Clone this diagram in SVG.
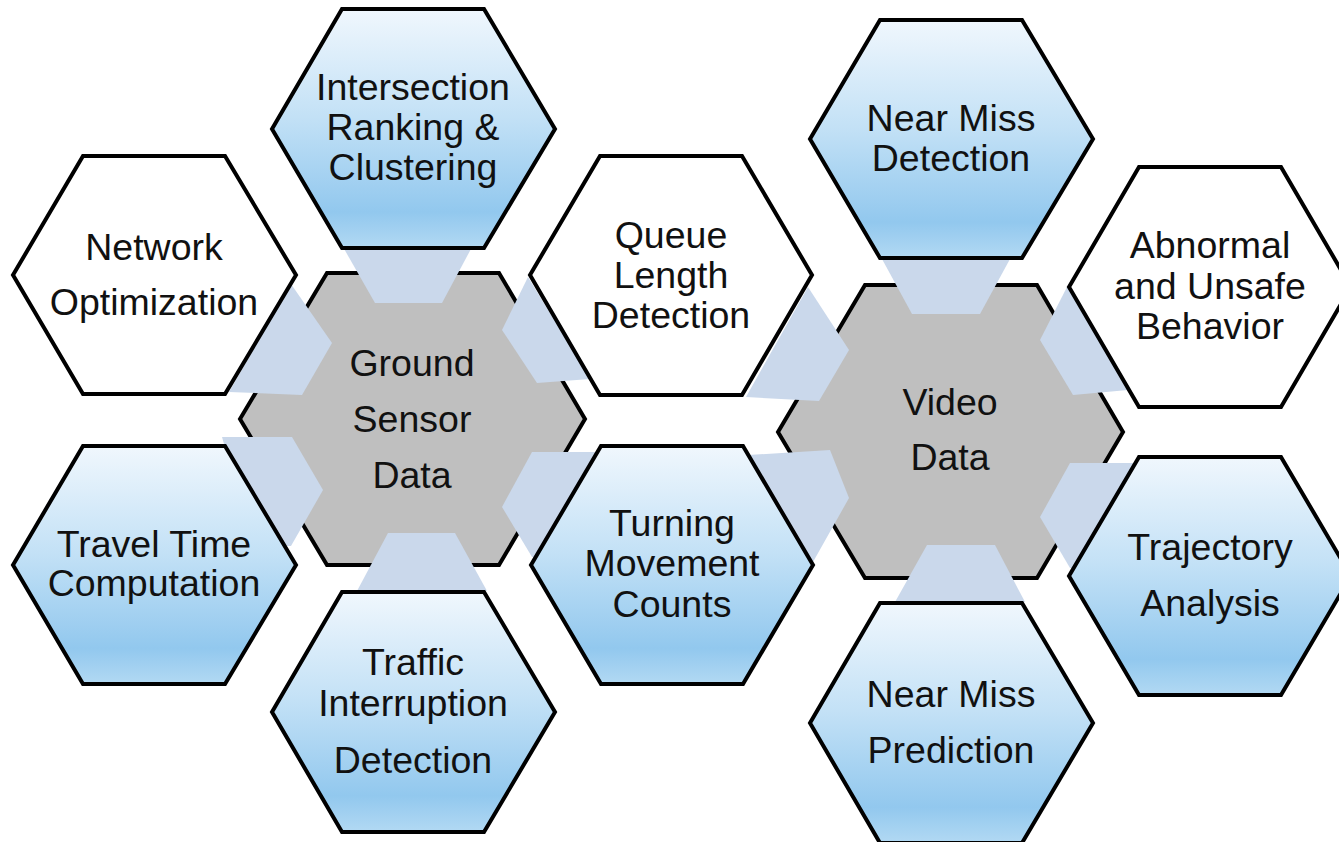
<svg xmlns="http://www.w3.org/2000/svg" width="1339" height="842" viewBox="0 0 1339 842">
<defs>
<linearGradient id="blue" x1="0" y1="0" x2="0" y2="1">
<stop offset="0" stop-color="#f0f7fd"/>
<stop offset="0.45" stop-color="#c3e1f6"/>
<stop offset="0.85" stop-color="#92c8ee"/>
<stop offset="1" stop-color="#b2d9f3"/>
</linearGradient>
<style>
.hex{stroke:#000;stroke-width:4;stroke-linejoin:miter}
.core{fill:#bfbfbf}
.white{fill:#fff}
.blue{fill:url(#blue)}
.conn{fill:#cad8eb;stroke:none}
text{font-family:"Liberation Sans",Arial,sans-serif;font-size:37.5px;fill:#111;text-anchor:middle}
</style>
</defs>
<rect width="1339" height="842" fill="#fff"/>
<g id="ground-sensor-data">
<polygon class="hex core" points="240,419 327,273 499,273 585,419 499,565 327,565"/>
</g>
<g id="video-data">
<polygon class="hex core" points="778,432 865,285 1037,285 1123,432 1037,578 865,578"/>
</g>
<g id="connectors">
<polygon class="conn" points="343,247 472,247 442,303 375,303"/>
<polygon class="conn" points="291,284 332,343 302,395 229,392"/>
<polygon class="conn" points="222,437 292,437 323,490 291,546 284,546 224,444"/>
<polygon class="conn" points="388,533 455,533 487,591 357,591"/>
<polygon class="conn" points="528,277 502,330 537,383 590,379"/>
<polygon class="conn" points="532,452 598,452 536,557 532,557 502,507"/>
<polygon class="conn" points="882,259 1010,259 980,314 912,314"/>
<polygon class="conn" points="927,545 995,545 1025,602 895,602"/>
<polygon class="conn" points="808,287 849,350 819,401 746,397"/>
<polygon class="conn" points="748,455 830,450 849,498 813,562"/>
<polygon class="conn" points="1067,287 1040,340 1073,395 1128,390"/>
<polygon class="conn" points="1070,463 1134,463 1073,568 1070,568 1040,517"/>
</g>
<g id="intersection-ranking">
<polygon class="hex blue" points="272,129 342,9 484,9 555,129 484,248 342,248"/>
<text x="413" y="100">Intersection</text>
<text x="413" y="140">Ranking &amp;</text>
<text x="413" y="180">Clustering</text>
</g>
<g id="network-optimization">
<polygon class="hex white" points="13,275 83,156 225,156 296,275 225,394 83,394"/>
<text x="154" y="260">Network</text>
<text x="154" y="315">Optimization</text>
</g>
<g id="travel-time">
<polygon class="hex blue" points="13,565 83,446 225,446 296,565 225,684 83,684"/>
<text x="154" y="557">Travel Time</text>
<text x="154" y="596">Computation</text>
</g>
<g id="traffic-interruption">
<polygon class="hex blue" points="272,712 342,592 484,592 555,712 484,832 342,832"/>
<text x="413" y="675">Traffic</text>
<text x="413" y="716">Interruption</text>
<text x="413" y="773">Detection</text>
</g>
<g id="queue-length">
<polygon class="hex white" points="530,275 600,156 742,156 812,275 742,395 600,395"/>
<text x="671" y="248">Queue</text>
<text x="671" y="288">Length</text>
<text x="671" y="328">Detection</text>
</g>
<g id="turning-movement">
<polygon class="hex blue" points="531,565 601,446 743,446 813,565 743,684 601,684"/>
<text x="672" y="536">Turning</text>
<text x="672" y="576">Movement</text>
<text x="672" y="617">Counts</text>
</g>
<g id="ground-label">
<text x="412" y="376">Ground</text>
<text x="412" y="432">Sensor</text>
<text x="412" y="488">Data</text>
</g>
<g id="video-label">
<text x="950" y="415">Video</text>
<text x="950" y="470">Data</text>
</g>
<g id="near-miss-detection">
<polygon class="hex blue" points="810,139 880,20 1022,20 1093,139 1022,258 880,258"/>
<text x="951" y="131">Near Miss</text>
<text x="951" y="171">Detection</text>
</g>
<g id="abnormal-behavior">
<polygon class="hex white" points="1069,287 1139,167 1281,167 1351,287 1281,407 1139,407"/>
<text x="1210" y="258">Abnormal</text>
<text x="1210" y="299">and Unsafe</text>
<text x="1210" y="339">Behavior</text>
</g>
<g id="trajectory-analysis">
<polygon class="hex blue" points="1069,576 1139,457 1281,457 1351,576 1281,695 1139,695"/>
<text x="1210" y="560">Trajectory</text>
<text x="1210" y="616">Analysis</text>
</g>
<g id="near-miss-prediction">
<polygon class="hex blue" points="810,723 880,603 1022,603 1093,723 1022,843 880,843"/>
<text x="951" y="707">Near Miss</text>
<text x="951" y="763">Prediction</text>
</g>
</svg>
